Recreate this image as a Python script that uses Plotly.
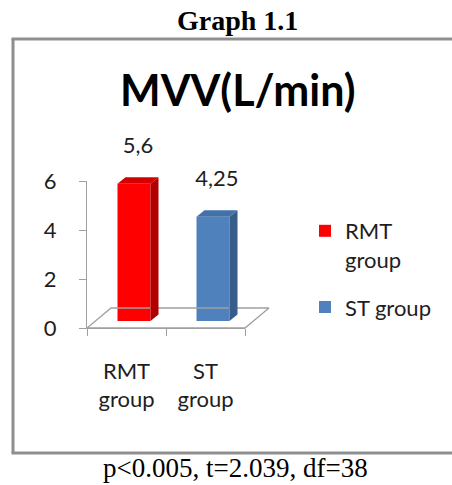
import plotly.graph_objects as go

# ---------------- data ----------------
categories = ["RMT<br>group", "ST<br>group"]
legend_names = ["RMT<br>group", "ST group"]
values = [5.6, 4.25]
y_ticks = [0, 2, 4, 6]
chart_title = "MVV(L/min)"
figure_title = "Graph 1.1"
caption = "p<0.005, t=2.039, df=38"

# ---------------- styles ----------------
front_colors = ["#ff0000", "#4f81bd"]
side_colors = ["#b00000", "#385d8a"]
top_colors = ["#d40000", "#4371aa"]
axis_color = "#a0a0a0"
text_color = "#1e1e1e"
FONT = "Lato"

W, H = 452, 485
X0_PX, XS = 87.0, 79.0      # pixel of x=-0.5, px per category unit
Y0_PX, YS = 328.0, 24.5     # pixel of y=0, px per unit

def px_x(p):
    return p / W

def px_y(p):
    return 1 - p / H

# 3D offsets in pixels (converted to data units)
FRONT_DX, FRONT_DY = 7.5 / XS, 7.0 / YS
SIDE_DX, SIDE_DY = 8.0 / XS, 6.5 / YS
FLOOR_DX, FLOOR_DY = 24.0 / XS, 20.0 / YS
BAR_W = 33.0 / XS
LABEL_GAP = 30.0 / YS

fig = go.Figure()

# floor (drawn on overlay subplot 2)
n = len(categories)
fx = [-0.5, n - 0.5, n - 0.5 + FLOOR_DX, -0.5 + FLOOR_DX, -0.5]
fy = [0, 0, FLOOR_DY, FLOOR_DY, 0]
fig.add_trace(go.Scatter(x=fx, y=fy, mode="lines", line=dict(color=axis_color, width=1.3),
                         xaxis="x2", yaxis="y2", showlegend=False, hoverinfo="skip"))

for i, v in enumerate(values):
    cx = i + FRONT_DX
    base = FRONT_DY
    xl, xr = cx - BAR_W / 2, cx + BAR_W / 2
    # front face
    fig.add_trace(go.Bar(x=[cx], y=[v], base=[base], width=[BAR_W],
                         marker=dict(color=front_colors[i], line=dict(width=0)),
                         name=legend_names[i], legendgroup="g%d" % i,
                         xaxis="x2", yaxis="y2"))
    # side face
    fig.add_trace(go.Scatter(
        x=[xr, xr + SIDE_DX, xr + SIDE_DX, xr, xr],
        y=[base, base + SIDE_DY, base + v + SIDE_DY, base + v, base],
        mode="lines", fill="toself", fillcolor=side_colors[i], line=dict(width=0, color=side_colors[i]),
        xaxis="x2", yaxis="y2", showlegend=False, hoverinfo="skip"))
    # top face
    fig.add_trace(go.Scatter(
        x=[xl, xr, xr + SIDE_DX, xl + SIDE_DX, xl],
        y=[base + v, base + v, base + v + SIDE_DY, base + v + SIDE_DY, base + v],
        mode="lines", fill="toself", fillcolor=top_colors[i], line=dict(width=0, color=top_colors[i]),
        xaxis="x2", yaxis="y2", showlegend=False, hoverinfo="skip"))
    # data label
    fig.add_trace(go.Scatter(
        x=[cx + SIDE_DX / 2], y=[base + v + SIDE_DY + LABEL_GAP],
        mode="text", text=[str(v).replace(".", ",")],
        textfont=dict(family=FONT, size=22, color=text_color), textposition="middle center",
        xaxis="x2", yaxis="y2", showlegend=False, hoverinfo="skip", cliponaxis=False))

# invisible trace to activate the axis subplot 1
fig.add_trace(go.Scatter(x=[0, 1], y=[0, 0], mode="markers", marker=dict(opacity=0),
                         xaxis="x", yaxis="y", showlegend=False, hoverinfo="skip"))

x2_hi = -0.5 + (300 - X0_PX) / XS
y2_lo = (Y0_PX - 345) / YS
y2_hi = (Y0_PX - 120) / YS

frame_col = "#8f8f8f"
frame = [
    dict(type="line", xref="paper", yref="paper", x0=px_x(13), x1=px_x(13), y0=px_y(453), y1=px_y(39),
         line=dict(color=frame_col, width=3)),
    dict(type="line", xref="paper", yref="paper", x0=px_x(11.5), x1=1.0, y0=px_y(39), y1=px_y(39),
         line=dict(color=frame_col, width=3)),
    dict(type="line", xref="paper", yref="paper", x0=px_x(11.5), x1=1.0, y0=px_y(453), y1=px_y(453),
         line=dict(color=frame_col, width=3)),
]

fig.update_layout(
    width=W, height=H, margin=dict(l=0, r=0, t=0, b=0, pad=0, autoexpand=False),
    paper_bgcolor="white", plot_bgcolor="rgba(0,0,0,0)",
    font=dict(family=FONT, size=22, color=text_color),
    barmode="overlay",
    xaxis=dict(domain=[px_x(X0_PX), px_x(X0_PX + n * XS)], range=[-0.5, n - 0.5],
               tickvals=list(range(n)), ticktext=categories, ticks="",
               showline=True, linecolor=axis_color, linewidth=1.3, automargin=False,
               showgrid=False, zeroline=False, ticklabelstandoff=23,
               tickfont=dict(family=FONT, size=22, color=text_color),
               minor=dict(tickvals=[k - 0.5 for k in range(n + 1)], ticks="outside",
                          ticklen=7, tickcolor=axis_color, tickwidth=1.3, showgrid=False)),
    yaxis=dict(domain=[px_y(Y0_PX), px_y(Y0_PX - max(y_ticks) * YS)], range=[0, max(y_ticks)],
               tickvals=y_ticks, ticks="outside", ticklen=7, tickcolor=axis_color, tickwidth=1.3,
               showline=True, linecolor=axis_color, linewidth=1.3, automargin=False,
               showgrid=False, zeroline=False, ticklabelstandoff=18,
               tickfont=dict(family=FONT, size=22, color=text_color)),
    xaxis2=dict(domain=[px_x(X0_PX), px_x(300)], range=[-0.5, x2_hi], visible=False,
                anchor="y2", automargin=False),
    yaxis2=dict(domain=[px_y(345), px_y(120)], range=[y2_lo, y2_hi], visible=False,
                anchor="x2", automargin=False),
    showlegend=True,
    legend=dict(x=px_x(305), y=px_y(210), xanchor="left", yanchor="top",
                font=dict(family=FONT, size=22, color=text_color), valign="top",
                bgcolor="rgba(0,0,0,0)", tracegroupgap=16, itemwidth=30),
    shapes=frame,
    annotations=[
        dict(text="<b>%s</b>" % figure_title, x=px_x(237), y=px_y(21), xref="paper", yref="paper",
             showarrow=False, xanchor="center", yanchor="middle",
             font=dict(family="Liberation Serif", size=28, color="black")),
        dict(text="<b>%s</b>" % chart_title, x=px_x(238), y=px_y(89), xref="paper", yref="paper",
             showarrow=False, xanchor="center", yanchor="middle",
             font=dict(family=FONT, size=43, color="black")),
        dict(text=caption, x=px_x(235), y=px_y(468), xref="paper", yref="paper",
             showarrow=False, xanchor="center", yanchor="middle",
             font=dict(family="Liberation Serif", size=27, color="black")),
    ],
)

fig.write_html("out.html", config={"displayModeBar": False},
               post_script="document.body.style.margin='0';document.body.style.padding='0';"
                           "document.documentElement.style.overflow='hidden';")
